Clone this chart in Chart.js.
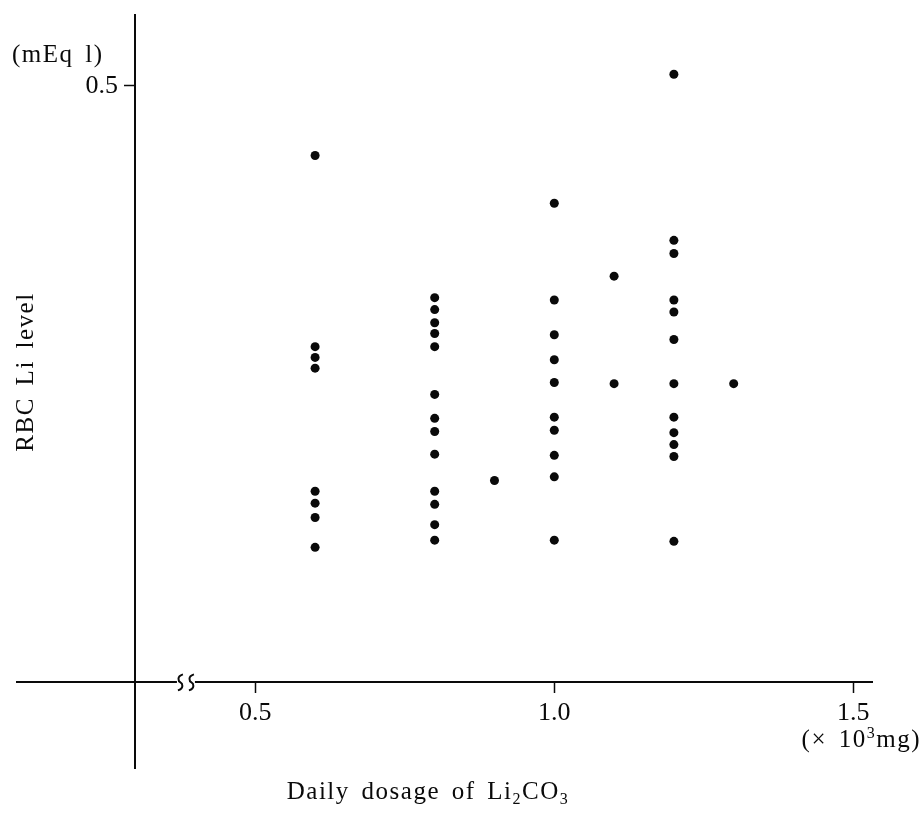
<!DOCTYPE html>
<html>
<head>
<meta charset="utf-8">
<script src="https://cdn.jsdelivr.net/npm/chart.js@4/dist/chart.umd.min.js"></script>
<style>
  html, body { margin: 0; padding: 0; background: #fff; }
  #wrap { width: 923px; height: 822px; position: relative; }
</style>
</head>
<body>
<div id="wrap"><canvas id="c" width="923" height="822"></canvas></div>
<script>
// ---- data ----
const doses = [0.6, 0.8, 0.9, 1.0, 1.1, 1.2, 1.3];
const levels06 = [0.441, 0.281, 0.272, 0.263, 0.160, 0.150, 0.138, 0.113];
const levels08 = [0.322, 0.312, 0.301, 0.292, 0.281, 0.241, 0.221, 0.210, 0.191, 0.160, 0.149, 0.132, 0.119];
const levels09 = [0.169];
const levels10 = [0.401, 0.320, 0.291, 0.270, 0.251, 0.222, 0.211, 0.190, 0.172, 0.119];
const levels11 = [0.340, 0.250];
const levels12 = [0.509, 0.370, 0.359, 0.320, 0.310, 0.287, 0.250, 0.222, 0.209, 0.199, 0.189, 0.118];
const levels13 = [0.250];
const xTicks = [0.5, 1.0, 1.5];
const yTicks = [0.5];

const groups = [levels06, levels08, levels09, levels10, levels11, levels12, levels13];
const points = [];
groups.forEach((g, i) => g.forEach(v => points.push({ x: doses[i], y: v })));

const SERIF = '"Liberation Serif", "DejaVu Serif", serif';
const INK = '#0a0a0a';

function drawParts(ctx, parts, x, baseY, align) {
  const big = '25px ' + SERIF, small = '16px ' + SERIF;
  let total = 0;
  parts.forEach(p => { ctx.font = p[1] ? small : big; total += ctx.measureText(p[0]).width; });
  let cx = align === 'center' ? x - total / 2 : (align === 'right' ? x - total : x);
  ctx.textAlign = 'left';
  ctx.textBaseline = 'alphabetic';
  parts.forEach(p => {
    ctx.font = p[1] ? small : big;
    ctx.fillText(p[0], cx, baseY + p[1]);
    cx += ctx.measureText(p[0]).width;
  });
}

const decor = {
  id: 'decor',
  afterDraw(chart) {
    const ctx = chart.ctx;
    const xs = chart.scales.x, ys = chart.scales.y;
    const ay = ys.getPixelForValue(0);
    const ax = xs.getPixelForValue(ys.options.position.x);
    // axis break on x axis
    const bx = xs.getPixelForValue(0.384);
    ctx.save();
    ctx.fillStyle = '#fff';
    ctx.fillRect(bx - 9, ay - 3, 18, 6);
    ctx.strokeStyle = INK;
    ctx.lineWidth = 2;
    [-5.5, 5.5].forEach(d => {
      const cx = bx + d;
      ctx.beginPath();
      ctx.moveTo(cx + 2.5, ay - 8);
      ctx.bezierCurveTo(cx - 4, ay - 6, cx - 2, ay - 1, cx, ay);
      ctx.bezierCurveTo(cx + 2, ay + 1, cx + 4, ay + 6, cx - 2.5, ay + 8);
      ctx.stroke();
    });
    ctx.restore();

    ctx.save();
    ctx.fillStyle = INK;
    // y tick labels (drawn at the library's tick positions)
    ctx.font = '26px ' + SERIF;
    ctx.textAlign = 'right';
    ctx.textBaseline = 'middle';
    ys.ticks.forEach(t => {
      ctx.fillText(Number(t.value).toFixed(1), ax - 17, ys.getPixelForValue(t.value) + 1);
    });

    ctx.letterSpacing = '1.5px';
    ctx.wordSpacing = '4px';
    ctx.font = '25px ' + SERIF;
    ctx.textAlign = 'left';
    ctx.textBaseline = 'middle';
    ctx.fillText('(mEq l)', 12, 55);

    // y title rotated
    ctx.save();
    ctx.translate(26, 372);
    ctx.rotate(-Math.PI / 2);
    ctx.textAlign = 'center';
    ctx.fillText('RBC Li level', 0, 0);
    ctx.restore();

    // x title with subscripts
    drawParts(ctx, [['Daily dosage of Li', 0], ['2', 5], ['CO', 0], ['3', 5]], 428, 799, 'center');
    // unit label with superscript
    drawParts(ctx, [['(\u00d7 10', 0], ['3', -9], ['mg)', 0]], 921, 747, 'right');
    ctx.restore();
  }
};

new Chart(document.getElementById('c'), {
  type: 'scatter',
  data: {
    datasets: [{
      data: points,
      backgroundColor: INK,
      borderWidth: 0,
      pointRadius: 4.5,
      pointHoverRadius: 4.5
    }]
  },
  options: {
    responsive: false,
    animation: false,
    events: [],
    layout: { padding: { left: 17, right: 51, top: 15, bottom: 54 } },
    plugins: { legend: { display: false }, tooltip: { enabled: false }, title: { display: false } },
    scales: {
      x: {
        type: 'linear',
        position: { y: 0 },
        min: 0.1015,
        max: 1.5313,
        afterBuildTicks: s => { s.ticks = xTicks.map(v => ({ value: v })); },
        ticks: {
          autoSkip: false,
          maxRotation: 0,
          padding: 5,
          color: INK,
          font: { family: SERIF, size: 26 },
          callback: v => Number(v).toFixed(1)
        },
        grid: { drawOnChartArea: false, drawTicks: true, tickLength: 10, tickColor: INK, tickWidth: 1.5 },
        border: { display: true, color: INK, width: 2 }
      },
      y: {
        type: 'linear',
        position: { x: 0.2988 },
        min: -0.0717,
        max: 0.5586,
        afterBuildTicks: s => { s.ticks = yTicks.map(v => ({ value: v })); },
        ticks: { display: false },
        grid: { drawOnChartArea: false, drawTicks: true, tickLength: 10, tickColor: INK, tickWidth: 1.5 },
        border: { display: true, color: INK, width: 2 }
      }
    }
  },
  plugins: [decor]
});
</script>
</body>
</html>
